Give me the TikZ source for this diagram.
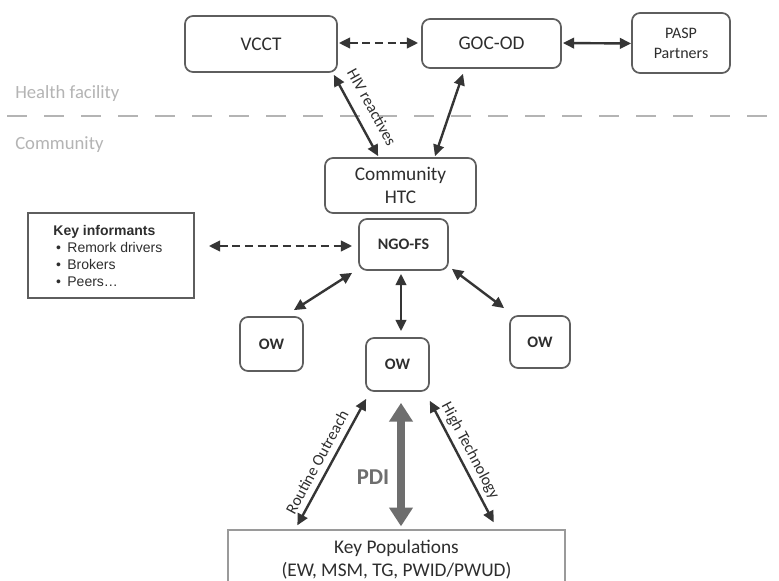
\documentclass[tikz,border=0pt]{standalone}
\usepackage{fontspec}
\setmainfont{Carlito}
\newfontfamily\arialf{Liberation Sans}
\usetikzlibrary{arrows.meta,calc}
\definecolor{boxgray}{HTML}{5E5E5E}
\definecolor{textdark}{HTML}{2E2E2E}
\definecolor{arrowdark}{HTML}{353535}
\definecolor{zonegray}{HTML}{B4B4B4}
\definecolor{pdigray}{HTML}{6E6E6E}
\definecolor{kpgray}{HTML}{9A9A9A}
\begin{document}
\begin{tikzpicture}[x=0.75pt,y=-0.75pt,
  box/.style={draw=boxgray,line width=1.3pt,rounded corners=6pt,align=center,text=textdark,inner sep=0pt},
  conn/.style={draw=arrowdark,line width=1.8pt,{Triangle[length=8.5pt,width=8pt]}-{Triangle[length=8.5pt,width=8pt]}},
  dconn/.style={conn,dash pattern=on 6pt off 3.5pt},
  lbl/.style={text=textdark,font=\fontsize{12}{14}\selectfont,inner sep=0pt},
  zone/.style={text=zonegray,font=\fontsize{14}{16}\selectfont,anchor=west,inner sep=0pt},
  zoneline/.style={draw=zonegray,line width=1.5pt,dash pattern=on 15pt off 12.75pt}]
\useasboundingbox (0,0) rectangle (779,581);
\fill[white] (0,0) rectangle (779,581);
\clip (0,0) rectangle (779,581);

% zones
\node[zone] (hf) at (15,94) {Health facility};
\node[zone] (cm) at (15,145) {Community};
\coordinate (sepL) at (7,116);
\coordinate (sepR) at (779,116);
\draw[zoneline] (sepL) -- (sepR);

% nodes
\node[box,minimum width=114pt,minimum height=42pt,font=\fontsize{14.5}{16}\selectfont] (vcct) at (261,44) {VCCT};
\node[box,minimum width=104.25pt,minimum height=36.75pt,font=\fontsize{14.5}{16}\selectfont] (goc) at (491.5,43.5) {GOC-OD};
\node[box,minimum width=73.5pt,minimum height=45pt,font=\fontsize{12}{15}\selectfont] (pasp) at (681,43) {PASP\\Partners};
\node[box,minimum width=113.25pt,minimum height=41.25pt,font=\fontsize{14.5}{17}\selectfont] (htc) at (400.5,185.5) {Community\\HTC};
\node[box,minimum width=66.75pt,minimum height=38.25pt,font=\bfseries\fontsize{12}{14}\selectfont] (ngo) at (403.5,244.5) {NGO-FS};

\node[draw=boxgray,line width=1.3pt,minimum width=124.5pt,minimum height=63.75pt,inner sep=0pt] (ki) at (111,255.5) {};
\node[anchor=west,align=left,inner sep=0pt,text=textdark,font=\arialf\fontsize{10.5}{12.75}\selectfont] (kitext) at ($(ki.west)+(26,0)$)
  {\textbf{Key informants}\\
   \hspace*{2pt}\makebox[8.5pt][l]{•}Remork drivers\\
   \hspace*{2pt}\makebox[8.5pt][l]{•}Brokers\\
   \hspace*{2pt}\makebox[8.5pt][l]{•}Peers…};

\node[box,minimum width=47.25pt,minimum height=40.5pt,font=\bfseries\fontsize{12}{14}\selectfont] (owl) at (271.5,344) {OW};
\node[box,minimum width=47.25pt,minimum height=39.75pt,font=\bfseries\fontsize{12}{14}\selectfont] (owc) at (397.5,364.5) {OW};
\node[box,minimum width=45pt,minimum height=39pt,font=\bfseries\fontsize{12}{14}\selectfont] (owr) at (540,342) {OW};

\node[draw=kpgray,line width=1pt,minimum width=252.75pt,minimum height=44.25pt,inner sep=0pt,align=center,text=textdark,font=\fontsize{14.5}{17.25}\selectfont] (kp) at (396.5,559.5) {Key Populations\\(EW, MSM, TG, PWID/PWUD)};

% connectors
\draw[dconn] ($(vcct.east)+(1,-1)$) -- ($(goc.west)+(-3,-0.5)$);
\draw[conn] ($(goc.east)+(1,-0.5)$) -- (goc.east -| pasp.west);
\draw[conn] ($(vcct.south east)+(-4,2)$) -- ($(htc.north west)+(54,-1)$);
\draw[conn] ($(goc.south)+(-28.5,5)$) -- ($(htc.north)+(34.5,-1)$);
\draw[dconn] ($(ki.east)+(14,-9.5)$) -- ($(ngo.west)+(-6,1.5)$);
\draw[conn] ($(ngo.south west)+(-6,2)$) -- ($(owl.north east)+(-10,-6)$);
\draw[conn] ($(ngo.south)+(-2.5,3)$) -- ($(owc.north)+(3.5,-6)$);
\draw[conn] ($(ngo.south east)+(3,-2)$) -- ($(owr.north west)+(-5,-7)$);
\draw[conn] ($(kp.north west)+(70,-4)$) -- ($(owc.south west)+(1,7)$);
\draw[draw=pdigray,line width=6pt,{Triangle[length=14pt,width=17pt]}-{Triangle[length=14pt,width=17pt]}]
  ($(owc.south)+(3.5,11)$) -- ($(kp.north)+(4.5,-3)$);
\draw[conn] ($(owc.south east)+(0,9)$) -- ($(kp.north east)+(-72,-7)$);

% labels
\node[lbl,rotate=-61] (hivl) at (372,107) {HIV reactives};
\node[lbl,rotate=61.7] (rol) at (317,462) {Routine Outreach};
\node[lbl,rotate=-62] (htl) at (470,451) {High Technology};
\node[text=pdigray,font=\bfseries\fontsize{17}{19}\selectfont,inner sep=0pt] (pdi) at (373,477) {PDI};
\end{tikzpicture}
\end{document}
